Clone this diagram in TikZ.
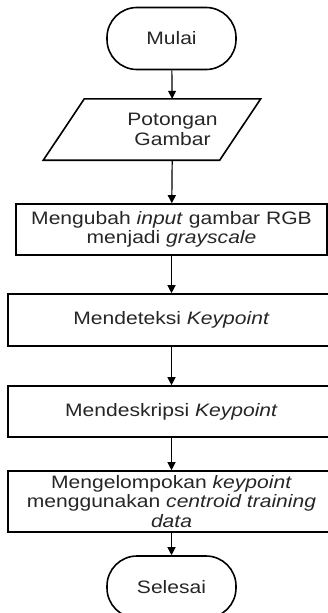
\documentclass[tikz,border=0pt]{standalone}
\usepackage{fontspec}
\setmainfont{Liberation Sans}[FakeStretch=1.17]
\usetikzlibrary{arrows.meta}
\begin{document}
\begin{tikzpicture}[x=1pt,y=-1pt,
  line/.style={draw=black, line width=1.6pt},
  arr/.style={line width=1.2pt, draw=black, -{Triangle[length=8pt,width=8pt]}},
  txt/.style={text=black!85, font=\fontsize{18}{19.5}\selectfont, align=center, inner sep=0pt},
  terminal/.style={txt, line, rounded corners=30pt, minimum width=129pt, minimum height=62pt},
  procbox/.style={txt, line, minimum height=51pt},
  iobox/.style={txt, minimum width=176pt, minimum height=61pt}
]
\useasboundingbox (0,0) rectangle (328,613);
\clip (0,0) rectangle (328,613);

% start / end terminals
\node[terminal] (mulai) at (171.5,38.5) {Mulai};
\node[terminal] (selesai) at (171.5,587) {Selesai};

% input: slanted data box
\node[iobox] (potong) at (172.5,129.5) {Potongan\\Gambar};
\draw[line] (potong.north west) -- (potong.north east)
  -- ([xshift=-41pt]potong.south east) -- ([xshift=-41pt]potong.south west) -- cycle;

% processing steps
\node[procbox, minimum width=311pt] (gray) at (171.5,229.5)
  {Mengubah \textit{input} gambar RGB\\menjadi \textit{grayscale}};
\node[procbox, minimum width=327pt, minimum height=52pt] (deteksi) at (171.5,320)
  {Mendeteksi \textit{Keypoint}};
\node[procbox, minimum width=327pt] (deskripsi) at (171.5,411.5)
  {Mendeskripsi \textit{Keypoint}};
\node[procbox, minimum width=327pt, minimum height=61pt] (kelompok) at (171.5,501.5)
  {Mengelompokan \textit{keypoint}\\menggunakan \textit{centroid training}\\\textit{data}};

% flow
\draw[arr] (mulai) -- (potong);
\draw[arr] (potong) -- (gray);
\draw[arr] (gray) -- (deteksi);
\draw[arr] (deteksi) -- (deskripsi);
\draw[arr] (deskripsi) -- (kelompok);
\draw[arr] (kelompok) -- (selesai);
\end{tikzpicture}
\end{document}
